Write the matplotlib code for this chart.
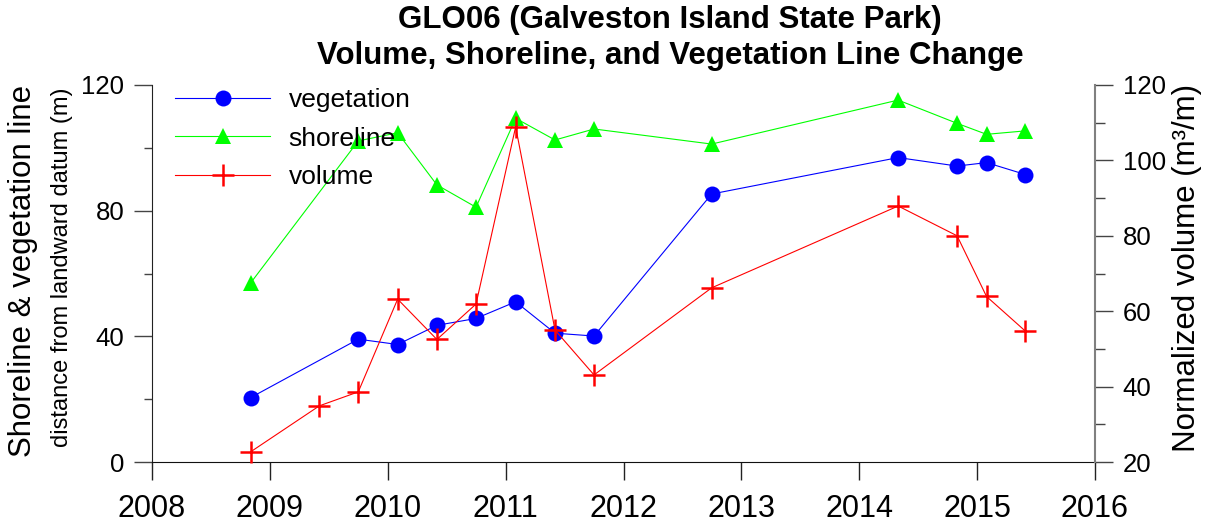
import matplotlib
matplotlib.use("Agg")
import matplotlib.pyplot as plt
from matplotlib.ticker import MultipleLocator

plt.rcParams['font.family'] = ['Liberation Sans', 'DejaVu Sans']

# ---- data (decimal years) ----
dates_lines = [2008.837, 2009.750, 2010.084, 2010.417, 2010.749, 2011.085, 2011.419,
               2011.750, 2012.748, 2014.330, 2014.830, 2015.080, 2015.410]
vegetation = [20.5, 39.1, 37.4, 43.5, 45.7, 51.0, 41.0, 40.1, 85.3, 96.9, 94.2, 95.3, 91.5]
shoreline = [57.0, 102.2, 104.8, 88.2, 81.1, 109.4, 102.5, 106.0, 101.2, 115.2, 107.8, 104.3, 105.4]

dates_volume = [2008.837, 2009.420, 2009.750, 2010.084, 2010.417, 2010.749, 2011.085,
                2011.419, 2011.750, 2012.748, 2014.330, 2014.830, 2015.080, 2015.410]
volume = [22.7, 34.9, 38.6, 63.2, 52.5, 61.9, 108.9, 55.0, 43.1, 66.2, 87.9, 80.0, 63.9, 54.7]

x_ticks = [2008, 2009, 2010, 2011, 2012, 2013, 2014, 2015, 2016]
left_ticks = [0, 40, 80, 120]
right_ticks = [20, 40, 60, 80, 100, 120]

W, H = 1214, 529
fig = plt.figure(figsize=(W / 100, H / 100), dpi=100)
L, R, T, B = 152, 1095, 85, 462
ax = fig.add_axes([L / W, 1 - B / H, (R - L) / W, (B - T) / H])
ax2 = ax.twinx()

lw = 0.8
h1, = ax.plot(dates_lines, vegetation, color='#0000ff', lw=lw, marker='o',
              markersize=11.5, markeredgewidth=0, label='vegetation', clip_on=False)
h2, = ax.plot(dates_lines, shoreline, color='#00ff00', lw=lw, marker='^',
              markersize=12, markeredgewidth=0, label='shoreline', clip_on=False)
h3, = ax2.plot(dates_volume, volume, color='#ff0000', lw=lw, marker='+',
               markersize=16, markeredgewidth=1.8, label='volume', clip_on=False)

ax.set_xlim(2008, 2016)
ax.set_ylim(0, 120)
ax2.set_ylim(20, 120)

ax.set_xticks(x_ticks)
ax.set_xticklabels([str(v) for v in x_ticks])
ax.set_yticks(left_ticks)
ax.yaxis.set_minor_locator(MultipleLocator(20))
ax2.set_yticks(right_ticks)
ax2.yaxis.set_minor_locator(MultipleLocator(10))

tick_col = '#444444'
ax.tick_params(axis='x', which='major', direction='out', length=13, width=1,
               color='#222222', labelsize=22, pad=10)
ax.tick_params(axis='y', which='major', direction='out', length=13, width=1,
               color=tick_col, labelsize=18.5, pad=7)
ax.tick_params(axis='y', which='minor', direction='out', length=6, width=1, color=tick_col)
ax2.tick_params(axis='y', which='major', direction='out', length=13, width=1,
                color=tick_col, labelsize=18.5, pad=7)
ax2.tick_params(axis='y', which='minor', direction='out', length=7, width=1, color=tick_col)

for a in (ax, ax2):
    a.spines['top'].set_visible(False)
ax.spines['right'].set_visible(False)
ax2.spines['left'].set_visible(False)
ax2.spines['bottom'].set_visible(False)
ax2.spines['right'].set_color('#808080')
ax2.spines['right'].set_linewidth(1.5)
ax.spines['left'].set_color('#222222')
ax.spines['bottom'].set_color('#111111')

# y labels
fig.text(23 / W, 1 - 271 / H, 'Shoreline & vegetation line', rotation=90,
         ha='center', va='center', fontsize=22.5)
fig.text(62 / W, 1 - 267 / H, 'distance from landward datum (m)', rotation=90,
         ha='center', va='center', fontsize=17)
fig.text(1187 / W, 1 - 268 / H, 'Normalized volume (m\u00b3/m)', rotation=90,
         ha='center', va='center', fontsize=22.5)

# title
fig.text(670 / W, 1 - 38 / H,
         'GLO06 (Galveston Island State Park)\nVolume, Shoreline, and Vegetation Line Change',
         ha='center', va='center', fontsize=22.5, fontweight='bold', linespacing=1.25)

leg = ax2.legend([h1, h2, h3], ['vegetation', 'shoreline', 'volume'],
                 loc='upper left', bbox_to_anchor=((175 - L) / (R - L), 1 - 3 / (B - T)),
                 frameon=False, fontsize=19, handlelength=3.6, numpoints=1,
                 handletextpad=0.7, labelspacing=0.55, borderpad=0, borderaxespad=0)

fig.savefig('out.png', dpi=100)
